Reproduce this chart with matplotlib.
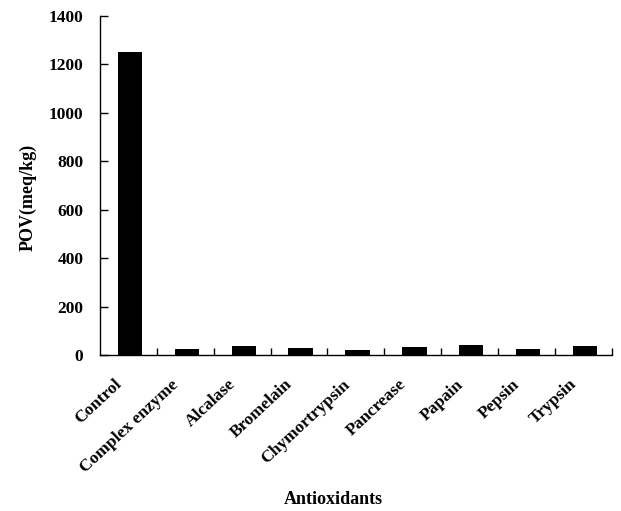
import numpy as np
import matplotlib
matplotlib.use("Agg")
from matplotlib import pyplot as plt
from matplotlib import transforms

# values
categories = ["Control", "Complex enzyme", "Alcalase", "Bromelain", "Chymortrypsin",
              "Pancrease", "Papain", "Pepsin", "Trypsin"]
pov = [1250, 24, 38, 28, 20, 33, 40, 27, 38]
y_ticks = [0, 200, 400, 600, 800, 1000, 1200, 1400]

plt.rcParams["font.family"] = ["Liberation Serif", "DejaVu Serif"]
plt.rcParams["font.weight"] = "bold"

fig = plt.figure(figsize=(6.21, 5.11), dpi=100)
ax = fig.add_axes([0.161, 0.305, 0.824, 0.664])

x = np.arange(len(categories))
ax.bar(x + 0.03, pov, width=0.43, color="black")

ax.set_xlim(-0.5, len(categories) - 0.5)
ax.set_ylim(0, 1400)
ax.set_yticks(y_ticks)
ax.set_yticklabels([str(v) for v in y_ticks], fontsize=12.5, fontweight="bold")

# labels at bar centres, ticks at category boundaries
ax.set_xticks(x)
ax.set_xticklabels(categories, rotation=43, ha="right", va="top", rotation_mode="anchor",
                   fontsize=12.5, fontweight="bold")
ax.tick_params(axis="x", which="major", length=0, pad=6)
shift = transforms.ScaledTranslation(-14 / 100, -13 / 100, fig.dpi_scale_trans)
for lab in ax.get_xticklabels():
    lab.set_transform(lab.get_transform() + shift)
ax.set_xticks(x + 0.5, minor=True)
ax.tick_params(axis="x", which="minor", direction="in", length=5, width=1)
ax.tick_params(axis="y", direction="in", length=6, width=1, pad=12)

for s in ["top", "right"]:
    ax.spines[s].set_visible(False)
for s in ["left", "bottom"]:
    ax.spines[s].set_linewidth(1.0)

fig.text(28 / 621, 1 - 197 / 511, "POV(meq/kg)", rotation=90, ha="center", va="center",
         fontsize=13, fontweight="bold")
fig.text(333 / 621, 1 - 500 / 511, "Antioxidants", ha="center", va="center",
         fontsize=13, fontweight="bold")

fig.savefig("out.png", dpi=100)
